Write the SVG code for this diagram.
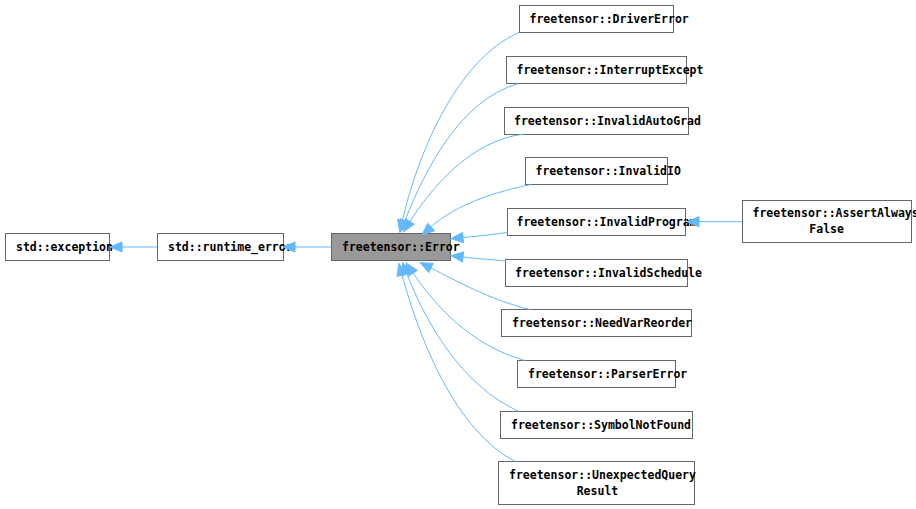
<svg xmlns="http://www.w3.org/2000/svg" width="916" height="509" viewBox="0 0 916 509">
<style>
.b{fill:#ffffff;stroke:#666666;stroke-width:1}
.g{fill:#999999;stroke:#666666;stroke-width:1}
text{font-family:"DejaVu Sans Mono","Liberation Mono",monospace;font-weight:bold;font-size:11.5px;fill:#000000}
.e{fill:none;stroke:#63b8ff;stroke-width:1;marker-start:url(#ah)}
</style>
<defs>
<marker id="ah" markerUnits="userSpaceOnUse" markerWidth="14" markerHeight="12" refX="0" refY="5" orient="auto-start-reverse" overflow="visible">
<path d="M0,0 L12,5 L0,10 Z" fill="#63b8ff" stroke="#63b8ff" stroke-width="1"/>
</marker>
</defs>
<rect width="916" height="509" fill="#ffffff"/>
<g id="nodes">
<g id="n-exception"><rect class="b" x="5.5" y="233.5" width="104" height="27"/><text x="16" y="251">std::exception</text></g>
<g id="n-runtime"><rect class="b" x="157.5" y="233.5" width="126" height="27"/><text x="168" y="251">std::runtime_error</text></g>
<g id="n-error"><rect class="g" x="331.5" y="233.5" width="119" height="27"/><text x="342" y="251">freetensor::Error</text></g>
<g id="n-driver"><rect class="b" x="519.5" y="5.5" width="154" height="27"/><text x="529.5" y="23">freetensor::DriverError</text></g>
<g id="n-interrupt"><rect class="b" x="506.5" y="56.5" width="180" height="27"/><text x="516.5" y="74">freetensor::InterruptExcept</text></g>
<g id="n-autograd"><rect class="b" x="504.5" y="107.5" width="184" height="27"/><text x="514" y="125">freetensor::InvalidAutoGrad</text></g>
<g id="n-io"><rect class="b" x="525.5" y="157.5" width="142" height="27"/><text x="535.5" y="175">freetensor::InvalidIO</text></g>
<g id="n-program"><rect class="b" x="507.5" y="208.5" width="178" height="27"/><text x="516.5" y="226">freetensor::InvalidProgram</text></g>
<g id="n-schedule"><rect class="b" x="505.5" y="259.5" width="182" height="27"/><text x="515" y="277">freetensor::InvalidSchedule</text></g>
<g id="n-assert"><rect class="b" x="742.5" y="200.5" width="169" height="42"/><text x="752.5" y="217">freetensor::AssertAlways</text><text x="809.3" y="232.5">False</text></g>
<g id="n-needvar"><rect class="b" x="501.5" y="309.5" width="190" height="27"/><text x="512" y="327">freetensor::NeedVarReorder</text></g>
<g id="n-parser"><rect class="b" x="517.5" y="360.5" width="158" height="27"/><text x="528" y="378">freetensor::ParserError</text></g>
<g id="n-symbol"><rect class="b" x="500.5" y="411.5" width="192" height="27"/><text x="511" y="429">freetensor::SymbolNotFound</text></g>
<g id="n-unexpected"><rect class="b" x="498.5" y="461.5" width="196" height="43"/><text x="509" y="479">freetensor::UnexpectedQuery</text><text x="576.7" y="494.7">Result</text></g>
</g>
<g id="edges">
<path class="e" d="M122,247 L157,247"/>
<path class="e" d="M295,247 L331,247"/>
<path class="e" d="M699,221.7 L742,221.7"/>
<path class="e" d="M402.5,220.5 C416,160 455,60 519,32.5"/>
<path class="e" d="M405,220.5 C425,170 460,100 518.5,83.5"/>
<path class="e" d="M410,221.5 C430,190 470,140 524.5,134"/>
<path class="e" d="M431,227 C450,210 480,195 531,184.5"/>
<path class="e" d="M463,237.5 C480,236 495,234 507.5,232.5"/>
<path class="e" d="M463,257 C480,259 495,260 506,261"/>
<path class="e" d="M431,268 C455,280 490,300 530,309.5"/>
<path class="e" d="M413,273 C435,305 470,345 525,360.5"/>
<path class="e" d="M407,274 C425,320 460,385 519,411.5"/>
<path class="e" d="M402,275 C420,340 455,430 515,461.5"/>
</g>
</svg>
